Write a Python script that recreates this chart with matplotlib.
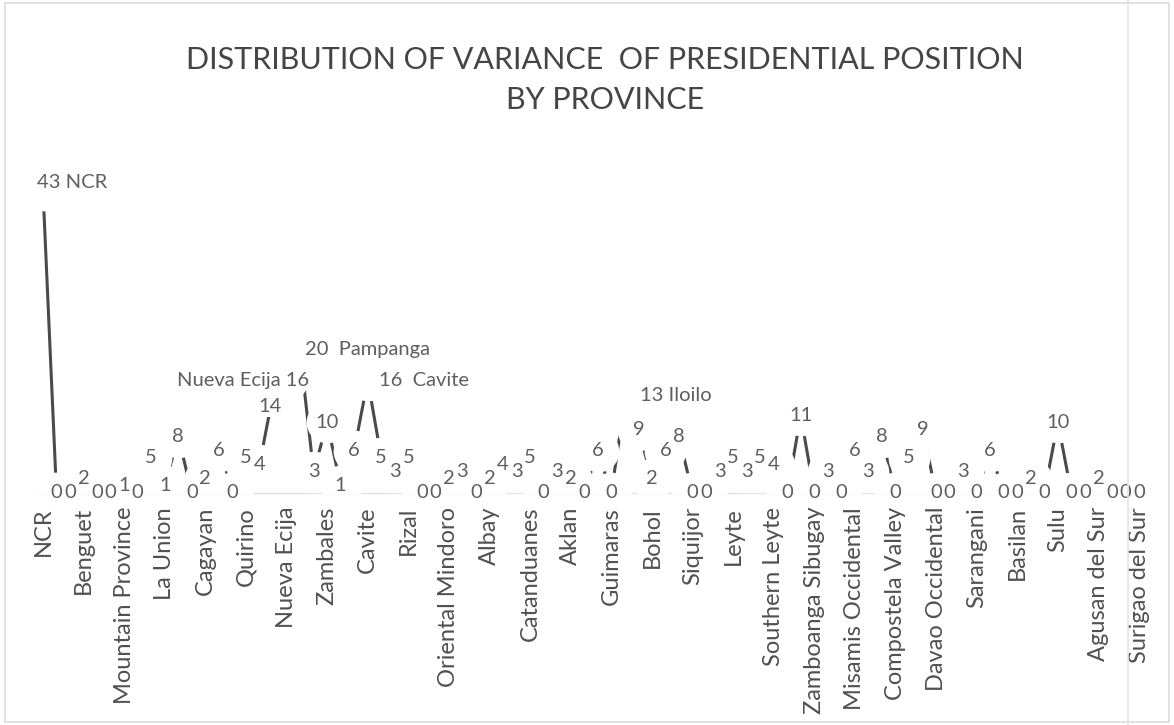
import matplotlib
matplotlib.use("Agg")
import matplotlib.pyplot as plt
from matplotlib.lines import Line2D

plt.rcParams['font.family'] = ['Lato', 'DejaVu Sans']

provinces = [
    "NCR", "Abra", "Apayao", "Benguet", "Ifugao", "Kalinga", "Mountain Province",
    "Ilocos Norte", "Ilocos Sur", "La Union", "Pangasinan", "Batanes", "Cagayan",
    "Isabela", "Nueva Vizcaya", "Quirino", "Bataan", "Bulacan", "Nueva Ecija",
    "Pampanga", "Tarlac", "Zambales", "Aurora", "Batangas", "Cavite", "Laguna",
    "Quezon", "Rizal", "Marinduque", "Occidental Mindoro", "Oriental Mindoro",
    "Palawan", "Romblon", "Albay", "Camarines Norte", "Camarines Sur",
    "Catanduanes", "Masbate", "Sorsogon", "Aklan", "Antique", "Capiz", "Guimaras",
    "Iloilo", "Negros Occidental", "Bohol", "Cebu", "Negros Oriental", "Siquijor",
    "Biliran", "Eastern Samar", "Leyte", "Northern Samar", "Samar",
    "Southern Leyte", "Zamboanga del Norte", "Zamboanga del Sur",
    "Zamboanga Sibugay", "Bukidnon", "Camiguin", "Misamis Occidental",
    "Misamis Oriental", "Lanao del Norte", "Compostela Valley", "Davao del Norte",
    "Davao del Sur", "Davao Occidental", "Davao Oriental", "Cotabato", "Sarangani",
    "South Cotabato", "Sultan Kudarat", "Basilan", "Lanao del Sur", "Maguindanao",
    "Sulu", "Tawi-Tawi", "Agusan del Norte", "Agusan del Sur", "Dinagat Islands",
    "Surigao del Norte", "Surigao del Sur",
]

variance = [
    43, 0, 0, 2, 0, 0, 1, 0, 5, 1, 8, 0, 2, 6, 0, 5, 4, 14, 16, 20, 3, 10, 1, 6,
    16, 5, 3, 5, 0, 0, 2, 3, 0, 2, 4, 3, 5, 0, 3, 2, 0, 6, 0, 13, 9, 2, 6, 8, 0,
    0, 3, 5, 3, 5, 4, 0, 11, 0, 3, 0, 6, 3, 8, 0, 5, 9, 0, 0, 3, 0, 6, 0, 0, 2,
    0, 10, 0, 0, 2, 0, 0, 0,
]

# every third province gets a category label
tick_step = 3

# labels that carry the province name, placed away from their point
named_labels = {
    "NCR": ("{v} NCR", -0.45, 44.0, "left"),
    "Nueva Ecija": ("Nueva Ecija {v}", 19.7, 16.0, "right"),
    "Pampanga": ("{v}  Pampanga", 19.4, 20.4, "left"),
    "Cavite": ("{v}  Cavite", 24.8, 15.9, "left"),
    "Iloilo": ("{v} Iloilo", 44.1, 13.8, "left"),
}
# plain value labels nudged off their point
nudged_labels = {"Bulacan": (16.8, 12.2)}

fig = plt.figure(figsize=(11.74, 7.25), dpi=100)
fig.patch.set_facecolor("white")

ax = fig.add_axes([36.2 / 1174, (725 - 493) / 725, 1109.6 / 1174, 317.3 / 725])
ax.set_xlim(-0.5, len(provinces) - 0.5)
ax.set_ylim(0, 45)

x = list(range(len(provinces)))
ax.plot(x, variance, color="#4a4a4a", lw=2.2, zorder=3, solid_capstyle="butt")
# white discs around each point keep the line clear of the value labels
ax.plot(x, variance, ls="none", marker="o", ms=30, mfc="white", mec="none",
        zorder=4)

label_color = "#5f5f5f"
fs_label = 14.5
for i, (name, v) in enumerate(zip(provinces, variance)):
    box = dict(boxstyle="square,pad=0.08", fc="white", ec="none")
    if name in named_labels:
        fmt, lx, ly, ha = named_labels[name]
        ax.text(lx, ly, fmt.format(v=v), ha=ha, va="center", fontsize=fs_label,
                color=label_color, zorder=6, bbox=box, clip_on=False)
    elif name in nudged_labels:
        lx, ly = nudged_labels[name]
        ax.text(lx, ly, str(v), ha="center", va="center", fontsize=fs_label,
                color=label_color, zorder=6, bbox=box, clip_on=False)
    else:
        ax.text(i, v, str(v), ha="center", va="center", fontsize=fs_label,
                color=label_color, zorder=5, clip_on=False)

for side in ("top", "right", "left"):
    ax.spines[side].set_visible(False)
ax.spines["bottom"].set_color("#e3e3e3")
ax.spines["bottom"].set_linewidth(1.0)
ax.set_yticks([])
ax.set_xticks(x[::tick_step])
ax.set_xticklabels(provinces[::tick_step], rotation=90, fontsize=17,
                   color="#505050")
ax.tick_params(axis="x", length=0, pad=10)
ax.set_facecolor("none")

title_kw = dict(ha="center", va="center", fontsize=22, color="#454545")
fig.text(0.515, 1 - 60 / 725, "DISTRIBUTION OF VARIANCE  OF PRESIDENTIAL POSITION",
         **title_kw)
fig.text(0.515, 1 - 100 / 725, "BY PROVINCE", **title_kw)

# chart frame and the neighbouring panel edge
fig.add_artist(plt.Rectangle((0.004, 0.004), 0.992, 0.992, transform=fig.transFigure,
                             fill=False, ec="#dcdcdc", lw=1.2))
fig.add_artist(Line2D([1128 / 1174, 1128 / 1174], [0, 1], transform=fig.transFigure,
                      color="#e4e4e4", lw=1.2))

fig.savefig("out.png", dpi=100, facecolor="white")
